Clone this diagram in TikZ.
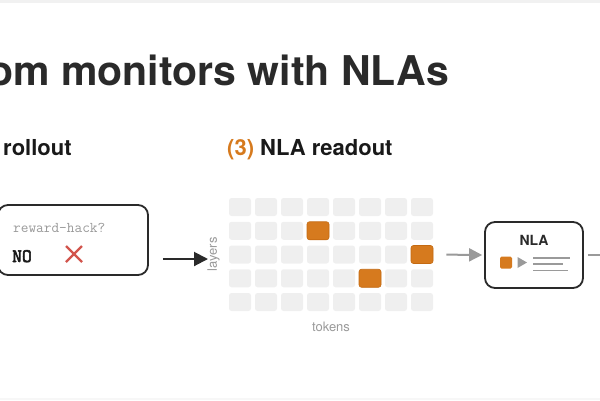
\documentclass[tikz,border=0pt]{standalone}
\usepackage{fontspec}
\setmainfont{TeX Gyre Heros}
\newfontfamily\answerfont[FakeBold=3]{Latin Modern Mono}
\usetikzlibrary{arrows.meta, positioning}

\definecolor{inkdark}{HTML}{2A2A2A}
\definecolor{inkgray}{HTML}{9A9A9A}
\definecolor{cellgray}{HTML}{EFEFEF}
\definecolor{nlaorange}{HTML}{D67A1E}
\definecolor{nlaorangedark}{HTML}{C46A12}
\definecolor{crossred}{HTML}{D2554D}
\definecolor{framegray}{HTML}{F1F1F1}

\begin{document}
\begin{tikzpicture}[
    x=1bp, y=-1bp,
    title/.style={font=\bfseries\fontsize{41bp}{41bp}\selectfont, text=inkdark, inner sep=0},
    heading/.style={font=\bfseries\fontsize{22bp}{22bp}\selectfont, text=black!90, inner sep=0},
    panel/.style={rectangle, rounded corners=10bp, draw=inkdark, line width=1.8bp, fill=white},
    cell/.style={rectangle, rounded corners=2.5bp, fill=cellgray, minimum width=22bp, minimum height=18bp, inner sep=0},
    hotcell/.style={cell, fill=nlaorange, draw=nlaorangedark, line width=0.6bp},
    axislabel/.style={font=\fontsize{13bp}{13bp}\selectfont, text=inkgray, inner sep=0},
    darrow/.style={-{Triangle[length=14bp, width=14bp]}, line width=2bp, draw=inkdark},
    garrow/.style={-{Triangle[length=13bp, width=13bp]}, line width=2bp, draw=inkgray}
]
    \useasboundingbox (0,0) rectangle (600,400);

    % Frame strips
    \fill[framegray] (0,0) rectangle (600,3);
    \fill[framegray!60] (0,398) rectangle (600,400);

    % Title and headings
    \node[title, anchor=base east] (title) at (449,85) {om monitors with NLAs};
    \node[heading, anchor=base west] (rollhead) at (3,155) {rollout};
    \node[heading, anchor=base west] (readhead) at (227,155) {\textcolor{nlaorange}{(3)} NLA readout};

    % Rollout panel
    \node[panel, minimum width=150bp, minimum height=70bp] (rollbox) at (73,240) {};
    \node[anchor=base west, inner sep=0, text=inkgray, font=\ttfamily\fontsize{14.9bp}{14.9bp}\selectfont] (question) at (13,232) {reward-hack?};
    \node[anchor=base west, inner sep=0, text=black!90, font=\answerfont\fontsize{19bp}{19bp}\selectfont] (answer) at (12,262) {NO};
    \coordinate (cross) at (74,254);
    \draw[crossred, line width=2.4bp] ([shift={(-8,-8)}]cross) -- ([shift={(8,8)}]cross)
                                       ([shift={(-8,8)}]cross) -- ([shift={(8,-8)}]cross);

    % Activation grid
    \foreach \c in {1,...,8}
        \foreach \r in {1,...,5}
            \node[cell] (c-\c-\r) at ({240+26*(\c-1)}, {207+23.75*(\r-1)}) {};
    \foreach \c/\r in {4/2, 8/3, 6/4}
        \node[hotcell] (hot-\c-\r) at (c-\c-\r) {};

    \node[axislabel, rotate=90] (layers) at (213.5,254.5) {layers};
    \node[axislabel] (tokens) at (331,327) {tokens};

    % NLA box
    \node[panel, minimum width=98bp, minimum height=66bp] (nla) at (534,255) {};
    \node[font=\bfseries\fontsize{14bp}{14bp}\selectfont, text=inkdark, inner sep=0] (nlalabel) at (534,240.5) {NLA};
    \node[rectangle, rounded corners=1.5bp, fill=nlaorange, minimum size=12bp, inner sep=0] (nlasq) at (506,262.5) {};
    \fill[inkgray] (517.5,257) -- (527,262.5) -- (517.5,268) -- cycle;
    \draw[inkgray, line width=1.6bp] (533,258) -- (570,258)
                                     (533,264) -- (563,264)
                                     (533,270.5) -- (568,270.5);

    % Connectors
    \coordinate (rolltip) at (208,259);
    \coordinate (offright) at (625,255);
    \draw[darrow, shorten <=14bp] (rollbox.east |- rolltip) -- (rolltip);
    \draw[garrow, shorten <=13bp, shorten >=2bp] (hot-8-3.east) -- (nla.west);
    \draw[garrow, shorten <=4bp] (nla.east) -- (offright);

\end{tikzpicture}
\end{document}
